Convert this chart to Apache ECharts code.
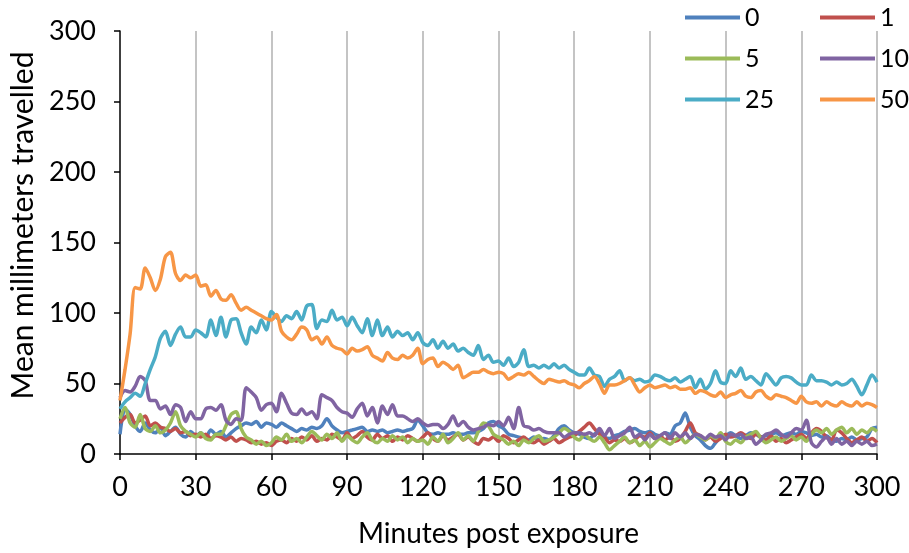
<!DOCTYPE html>
<html><head><meta charset="utf-8">
<script src="https://cdn.jsdelivr.net/npm/echarts@6/dist/echarts.min.js"></script>
<style>html,body{margin:0;padding:0;background:#fff}#c{width:909px;height:553px}</style>
</head><body><div id="c"></div>
<script>
const minutes = [0,2,4,6,8,10,12,14,16,18,20,22,24,26,28,30,32,34,36,38,40,42,44,46,48,50,52,54,56,58,60,62,64,66,68,70,72,74,76,78,80,82,84,86,88,90,92,94,96,98,100,102,104,106,108,110,112,114,116,118,120,122,124,126,128,130,132,134,136,138,140,142,144,146,148,150,152,154,156,158,160,162,164,166,168,170,172,174,176,178,180,182,184,186,188,190,192,194,196,198,200,202,204,206,208,210,212,214,216,218,220,222,224,226,228,230,232,234,236,238,240,242,244,246,248,250,252,254,256,258,260,262,264,266,268,270,272,274,276,278,280,282,284,286,288,290,292,294,296,298,300];

const dose0 = [14,32,28,20,16,22,17,15,19,13, 16,19,14,12,16,13,15,12,17,14, 16,12,15,18,20,22,21,23,19,22, 21,19,22,20,18,16,18,17,19,18, 20,25,20,17,15,16,17,18,19,16, 17,16,17,15,16,17,16,17,18,24, 20,15,14,15,14,14,15,14,14,15, 15,16,18,22,23,20,18,14,13,12, 11,10,12,10,11,10,13,18,20,17, 15,14,12,11,14,16,12,11,13,14, 16,17,18,16,15,16,14,13,15,14, 20,22,29,19,13,10,6,4,8,12, 13,15,13,11,13,15,14,12,13,14, 15,13,14,15,14,16,15,13,14,12, 13,10,9,11,10,12,10,11,12,18, 19];
const dose1 = [22,26,28,22,24,27,20,22,19,18, 16,18,15,16,13,14,12,14,11,13, 12,10,12,9,11,10,8,9,7,8, 6,9,10,8,11,9,12,10,13,9, 11,10,14,12,10,15,11,13,16,12, 10,14,11,13,9,12,10,13,11,9, 12,15,11,9,13,10,12,14,10,12, 9,7,11,10,12,9,13,11,8,10, 12,9,8,10,7,9,11,8,10,12, 13,16,19,22,18,14,12,8,10,9, 11,8,10,13,12,15,11,13,10,12, 9,11,16,22,15,13,10,12,9,11, 14,12,13,15,13,11,14,12,10,13, 9,11,8,10,12,14,11,15,18,16, 12,10,17,15,11,8,10,12,9,11, 8];
const dose5 = [25,33,22,19,28,18,16,20,15,17, 22,30,20,16,14,12,15,11,10,14, 14,20,28,30,18,12,10,7,9,6, 8,12,10,14,9,11,8,12,16,13, 10,14,11,15,9,13,10,8,12,15, 10,8,11,9,13,10,12,8,11,9, 10,7,12,9,14,8,11,15,10,13, 9,16,22,20,14,12,10,7,9,6, 10,8,11,13,9,10,12,15,18,16, 12,10,14,11,9,12,8,3,6,9, 12,8,10,6,9,5,8,11,9,7, 10,12,8,11,14,12,10,13,11,15, 9,7,10,8,12,14,16,11,8,10, 12,9,11,13,10,12,9,14,17,15, 18,14,17,19,15,18,14,17,15,18, 16];
const dose10 = [40,45,44,48,55,52,38,38,32,34, 28,35,33,23,30,25,25,32,33,31, 35,24,21,25,24,47,44,40,31,35, 36,30,43,36,29,28,32,28,30,25, 42,40,38,33,30,29,26,32,36,27, 33,22,34,28,35,27,27,25,23,25, 22,20,21,21,18,21,27,20,23,19, 17,18,19,21,20,23,20,26,18,33, 20,19,17,18,16,15,15,15,12,14, 15,15,14,15,13,18,13,18,11,13, 15,19,12,14,10,14,11,13,15,11, 15,12,15,11,14,13,11,14,12,13, 10,14,13,14,11,12,7,10,14,15, 17,14,12,15,18,17,24,8,5,9, 12,7,11,7,9,6,9,7,9,6, 7];
const dose25 = [32,37,40,43,41,50,60,69,82,87, 77,85,90,83,83,88,86,83,95,84, 97,83,95,96,86,78,90,86,95,88, 101,97,94,98,96,101,95,105,106,89, 95,94,102,95,97,91,97,91,86,96, 84,95,84,90,83,87,84,86,81,86, 79,77,81,75,80,75,78,73,75,72, 70,77,67,70,65,66,63,68,62,65, 74,62,63,61,63,61,64,61,63,60, 58,56,56,61,56,55,48,53,55,59, 52,54,52,53,51,52,56,55,53,52, 54,51,53,55,47,53,46,50,59,51, 50,59,55,61,53,55,52,49,57,53, 49,54,55,54,51,49,49,56,52,52, 51,49,51,49,50,53,48,42,49,56, 51];
const dose50 = [38,60,85,118,117,132,125,116,124,140, 143,128,123,127,125,127,119,120,112,116, 110,109,113,107,102,104,102,100,98,96, 95,99,87,83,81,85,90,88,81,83, 78,83,77,75,74,71,75,73,74,76, 70,68,66,72,68,67,70,68,70,75, 64,67,68,62,65,63,60,63,54,56, 58,58,60,58,57,58,57,53,55,57, 56,58,55,52,50,53,52,51,52,50, 49,47,50,52,55,50,43,49,49,50, 52,54,49,44,47,49,47,48,49,47, 48,46,46,47,43,45,44,42,41,44, 40,42,43,45,41,40,44,45,41,39, 42,41,40,38,36,41,37,36,37,34, 37,35,34,37,35,34,37,34,36,35, 33];

const seriesNames = ['0','1','5','10','25','50'];
const seriesValues = [dose0, dose1, dose5, dose10, dose25, dose50];
const colors = ['#4F81BD','#C0504D','#9BBB59','#8064A2','#4BACC6','#F79646'];

const FONT = 'Lato';
const chart = echarts.init(document.getElementById('c'), null, {renderer: 'canvas'});

const series = seriesNames.map((name, k) => ({
  name: name,
  type: 'line',
  data: minutes.map((m, i) => [m, seriesValues[k][i]]),
  showSymbol: false,
  symbol: 'none',
  smooth: 0.3,
  lineStyle: {width: 3.5, color: colors[k]},
  itemStyle: {color: colors[k]},
  emphasis: {disabled: true},
  z: 2 + k
}));

const legendCommon = {
  orient: 'vertical',
  top: 5,
  padding: 0,
  itemWidth: 55,
  itemHeight: 4,
  itemGap: 16,
  icon: 'rect',
  selectedMode: false,
  textStyle: {fontSize: 25, fontFamily: FONT, color: '#000'}
};

chart.setOption({
  animation: false,
  backgroundColor: '#fff',
  color: colors,
  grid: {left: 120, right: 32, top: 31, bottom: 94, containLabel: false},
  legend: [
    Object.assign({}, legendCommon, {left: 685, data: ['0','5','25']}),
    Object.assign({}, legendCommon, {left: 820, data: ['1','10','50']})
  ],
  xAxis: {
    type: 'value', min: 0, max: 300, interval: 30,
    name: 'Minutes post exposure', nameLocation: 'middle', nameGap: 66,
    nameTextStyle: {fontSize: 28, fontFamily: FONT, color: '#000'},
    axisLine: {show: true, lineStyle: {color: '#000', width: 1.5}},
    axisTick: {show: true, inside: false, length: 6, lineStyle: {color: '#000', width: 1.5}},
    axisLabel: {fontSize: 27, fontFamily: FONT, color: '#000', margin: 20},
    splitLine: {show: true, showMinLine: false, lineStyle: {color: '#c4c4c4', width: 2}}
  },
  yAxis: {
    type: 'value', min: 0, max: 300, interval: 50,
    name: 'Mean millimeters travelled', nameLocation: 'middle', nameGap: 75,
    nameTextStyle: {fontSize: 30, fontFamily: FONT, color: '#000', padding: [0, 0, 0, 34]},
    axisLine: {show: true, lineStyle: {color: '#000', width: 1.5}},
    axisTick: {show: true, inside: false, length: 6, lineStyle: {color: '#000', width: 1.5}},
    axisLabel: {fontSize: 27, fontFamily: FONT, color: '#000', margin: 24},
    splitLine: {show: false}
  },
  series: series
});
</script>
</body></html>
